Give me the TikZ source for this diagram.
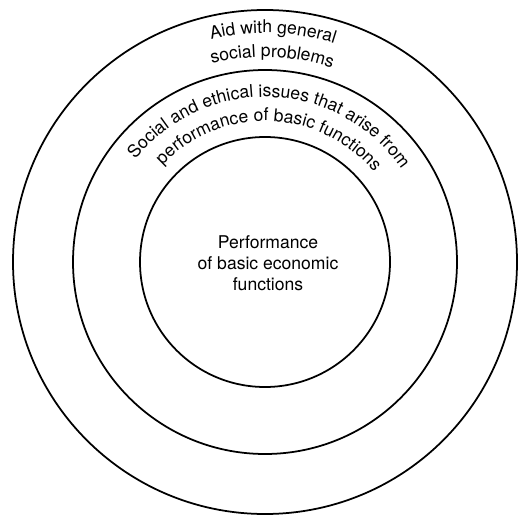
\documentclass[tikz,border=0pt]{standalone}
\usepackage{fontspec}
\setmainfont{TeX Gyre Heros}
\usetikzlibrary{decorations.text}

\begin{document}
\begin{tikzpicture}[x=0.02cm,y=0.02cm,
    ring/.style={line width=1pt},
    arclabel/.style={decorate,decoration={text along path,text align=center,text={#1}}}]
    %BINGKAI
    \useasboundingbox (0,0) rectangle (523,514);
    %KOORDINAT
    \coordinate (O) at (265,252);
    %LINGKARAN
    \draw[ring] (O) circle[radius=252];
    \draw[ring] (O) circle[radius=192];
    \draw[ring] (O) circle[radius=125];
    %TEKS LUAR
    \path[arclabel={Aid with general}] (O) ++(150:229) arc[start angle=150,end angle=26,radius=229];
    \path[arclabel={social problems}] (O) ++(150:205) arc[start angle=150,end angle=26,radius=205];
    %TEKS TENGAH
    \path[arclabel={Social and ethical issues that arise from}] (O) ++(170:165) arc[start angle=170,end angle=6,radius=165];
    \path[arclabel={performance of basic functions}] (O) ++(170:141) arc[start angle=170,end angle=6,radius=141];
    %TEKS DALAM
    \node[align=center] (core) at (268,251) {Performance\\of basic economic\\functions};
\end{tikzpicture}
\end{document}
